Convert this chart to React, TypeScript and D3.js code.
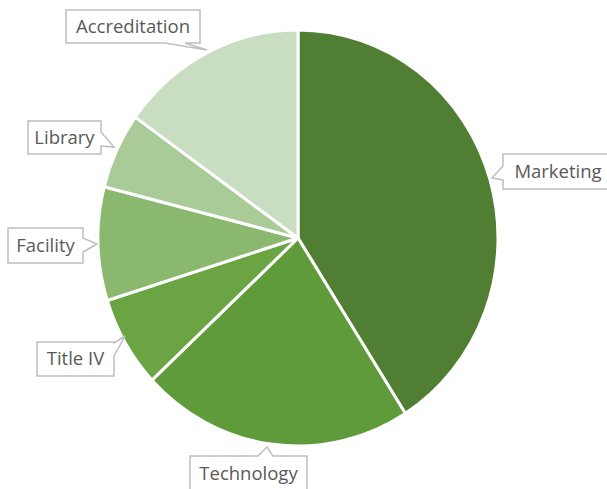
import React from "react";
import * as d3 from "d3";

const categories = ["Marketing", "Technology", "Title IV", "Facility", "Library", "Accreditation"];
const values = [40.9, 22.0, 7.1, 8.8, 5.9, 15.1];
const colors = ["#507E32", "#5F9B3B", "#6AA443", "#8AB86E", "#A9CB97", "#C9DDC0"];

// label box layout: x, y, w, h, side, tip
const boxes: Record<string, { x: number; y: number; w: number; h: number; side: string; b0: number; b1: number; tip: [number, number] }> = {
  Marketing: { x: 503, y: 154, w: 110, h: 35, side: "left", b0: 166, b1: 180, tip: [492, 178] },
  Technology: { x: 190, y: 456, w: 117, h: 40, side: "top", b0: 258, b1: 273, tip: [267, 447] },
  "Title IV": { x: 37, y: 342, w: 77, h: 34, side: "right", b0: 343, b1: 356, tip: [125, 336] },
  Facility: { x: 8, y: 228, w: 75, h: 35, side: "right", b0: 238, b1: 252, tip: [97, 244] },
  Library: { x: 28, y: 121, w: 73, h: 33, side: "right", b0: 132, b1: 146, tip: [114, 147] },
  Accreditation: { x: 66, y: 10, w: 134, h: 33, side: "bottom", b0: 165, b1: 185, tip: [207, 50] },
};

function calloutPath(b: any) {
  const { x, y, w, h, side, b0, b1, tip } = b;
  const r = x + w, bt = y + h;
  const t = `L${tip[0]},${tip[1]}`;
  if (side === "left") return `M${x},${y}L${r},${y}L${r},${bt}L${x},${bt}L${x},${b1}${t}L${x},${b0}Z`;
  if (side === "right") return `M${x},${y}L${r},${y}L${r},${b0}${t}L${r},${b1}L${r},${bt}L${x},${bt}Z`;
  if (side === "top") return `M${x},${y}L${b0},${y}${t}L${b1},${y}L${r},${y}L${r},${bt}L${x},${bt}Z`;
  return `M${x},${y}L${r},${y}L${r},${bt}L${b1},${bt}${t}L${b0},${bt}L${x},${bt}Z`;
}

export default function App() {
  const cx = 298, cy = 238, R = 200, sy = 1.04;
  const pie = d3.pie<number>().sort(null).value((d) => d);
  const arcs = pie(values);
  const arc = d3.arc<d3.PieArcDatum<number>>().innerRadius(0).outerRadius(R);
  return (
    <svg width={607} height={489} style={{ position: "absolute", left: 0, top: 0, fontFamily: "'Open Sans', sans-serif" }}>
      <rect width={607} height={489} fill="#fff" />
      <g transform={`translate(${cx},${cy}) scale(1,${sy})`}>
        {arcs.map((a, i) => (
          <path key={i} d={arc(a) || ""} fill={colors[i]} stroke="#fff" strokeWidth={3} strokeLinejoin="round" vectorEffect="non-scaling-stroke" />
        ))}
      </g>
      {categories.map((c) => {
        const b = boxes[c];
        return (
          <g key={c}>
            <path d={calloutPath(b)} fill="#fff" stroke="#BFBFBF" strokeWidth={1.5} />
            <text x={b.x + b.w / 2} y={b.y + (c === "Technology" ? 18 : b.h / 2)} dy="0.35em" textAnchor="middle" fontSize={18.5} fill="#595959">
              {c}
            </text>
          </g>
        );
      })}
    </svg>
  );
}
